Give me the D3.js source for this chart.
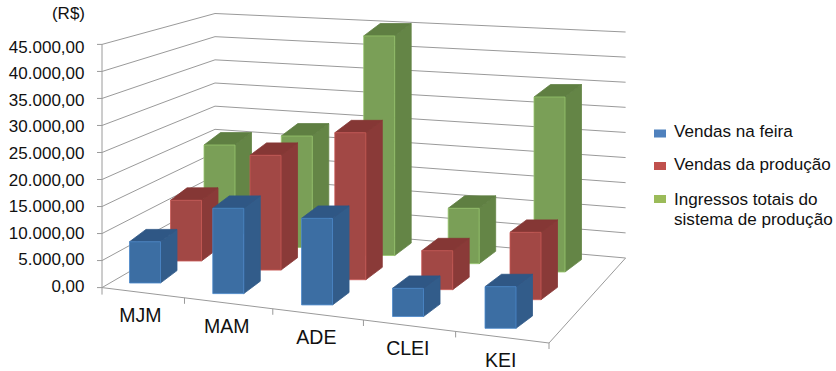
<!DOCTYPE html>
<html><head><meta charset="utf-8">
<script src="https://cdn.jsdelivr.net/npm/d3@7"></script>
<style>html,body{margin:0;background:#fff}svg{display:block}text{font-family:"Liberation Sans",Arial,sans-serif;fill:#111}</style>
</head><body><svg id="c" width="836" height="371"></svg>
<script>
const categories = ["MJM", "MAM", "ADE", "CLEI", "KEI"];
const seriesNames = ["Vendas na feira", "Vendas da produção", "Ingressos totais do sistema de produção"];
const feira = [7600, 15470, 15420, 4930, 7150];
const producao = [11830, 21980, 27650, 7190, 12230];
const ingressos = [19430, 22400, 43290, 10720, 33230];
const ticks = [0, 5000, 10000, 15000, 20000, 25000, 30000, 35000, 40000, 45000];

const palette = [
  {front: "#3c6ea3", side: "#325c8a", top: "#2f5785", key: "#4f81bd"},
  {front: "#a24845", side: "#8a3a38", top: "#853735", key: "#c0504d"},
  {front: "#7a9f57", side: "#648546", top: "#5f7f42", key: "#9bbb59"}
];

const svg = d3.select("#c");
const pathOf = pts => "M" + pts.map(p => p.join(",")).join("L") + "Z";
const lineOf = pts => "M" + pts.map(p => p.join(",")).join("L");
const gridColor = "#9a9a9a";

// Walls: value to screen y at the three visible vertical edges of the box
const frontLeftX = 102, backLeftX = 215, backRightX = 625.6;
const frontWallY = d3.scaleLinear().domain([0, 45000]).range([287.6, 44.4]);
const leftBackY = d3.scaleLinear().domain([0, 45000]).range([222, 13.5]);
const rightBackY = d3.scaleLinear().domain([0, 45000]).range([258, 32]);

svg.append("g").selectAll("path").data(ticks).join("path")
  .attr("d", t => lineOf([[frontLeftX, frontWallY(t)], [backLeftX, leftBackY(t)], [backRightX, rightBackY(t)]]))
  .attr("fill", "none").attr("stroke", gridColor);

// Front floor edge: slightly stretched toward the near corner
const frontRight = [549, 343];
const edgeT = d3.scalePow().exponent(1.05).domain([0, 5]).range([0, 1]);
const edgeX = t => frontLeftX + (frontRight[0] - frontLeftX) * t;
const edgeY = t => frontWallY(0) + (frontRight[1] - frontWallY(0)) * t;

const axes = svg.append("g").attr("stroke", gridColor).attr("fill", "none");
axes.append("path").attr("d", lineOf([[frontLeftX, frontWallY(0)], frontRight, [backRightX, rightBackY(0)]]));
axes.append("line").attr("x1", frontLeftX).attr("x2", frontLeftX)
  .attr("y1", frontWallY(45000)).attr("y2", frontWallY(0) + 7);
axes.selectAll(".vt").data(ticks).join("line").attr("class", "vt")
  .attr("x1", frontLeftX - 5).attr("x2", frontLeftX)
  .attr("y1", frontWallY).attr("y2", frontWallY);
axes.selectAll(".ct").data(d3.range(1, 6)).join("line").attr("class", "ct")
  .attr("x1", i => edgeX(edgeT(i))).attr("x2", i => edgeX(edgeT(i)))
  .attr("y1", i => edgeY(edgeT(i))).attr("y2", i => edgeY(edgeT(i)) + 6);

// Value labels
const labelY = d3.scaleLinear().domain([0, 45000]).range([292, 52.7]);
const labelFormat = v => d3.format(",.2f")(v).replace(/,/g, "#").replace(".", ",").replace(/#/g, ".");
svg.append("g").selectAll("text").data(ticks).join("text")
  .attr("x", 84.5).attr("y", labelY).attr("text-anchor", "end")
  .attr("font-size", 17).text(labelFormat);
svg.append("text").attr("x", 85).attr("y", 19).attr("text-anchor", "end").attr("font-size", 17).text("(R$)");

// Category labels under the front floor edge
svg.append("g").selectAll("text").data(categories).join("text")
  .attr("x", (c, i) => edgeX(edgeT(i + 0.5)) - 1.5)
  .attr("y", (c, i) => edgeY(edgeT(i + 0.5)) + 29.5)
  .attr("text-anchor", "middle").attr("font-size", 19.5).text(c => c);

// Each depth row runs along its own line on the floor, with its own height scale
const rowT = d3.scalePow().exponent(1.047).domain([0, categories.length - 1]).range([0, 1]);
const rowGeometry = [
  {x: [129.5, 485], y: [283, 328.3], h: [244, 262]},
  {x: [170.5, 510], y: [261, 299.7], h: [231, 248]},
  {x: [204, 534], y: [240, 272], h: [220, 237]}
];
const rowScales = rowGeometry.map(r => ({
  x: d3.scaleLinear().range(r.x),
  y: d3.scaleLinear().range(r.y),
  h: d3.scaleLinear().range(r.h)
}));
const valueFraction = d3.scaleLinear().domain([0, 45000]).range([0, 1]);
const barWidth = 31, depthX = 16.5, depthY = 12.4;

// Bars, back row first so nearer rows cover it
const rows = [feira, producao, ingressos];
const barLayer = svg.append("g");
[2, 1, 0].forEach(s => {
  const colors = palette[s], scale = rowScales[s];
  categories.forEach((c, i) => {
    const t = rowT(i);
    const x0 = scale.x(t), x1 = x0 + barWidth;
    const base = scale.y(t), top = base - valueFraction(rows[s][i]) * scale.h(t);
    const g = barLayer.append("g").attr("stroke-width", 0.8).attr("stroke-linejoin", "round");
    g.append("path").attr("d", pathOf([[x1, base], [x1 + depthX, base - depthY], [x1 + depthX, top - depthY], [x1, top]]))
      .attr("fill", colors.side).attr("stroke", colors.side);
    g.append("path").attr("d", pathOf([[x0, top], [x1, top], [x1 + depthX, top - depthY], [x0 + depthX, top - depthY]]))
      .attr("fill", colors.top).attr("stroke", colors.top);
    g.append("rect").attr("x", x0).attr("y", top).attr("width", barWidth).attr("height", base - top)
      .attr("fill", colors.front).attr("stroke", d3.color(colors.front).brighter(0.6));
  });
});

// Legend
const legendLines = [["Vendas na feira"], ["Vendas da produção"], ["Ingressos totais do", "sistema de produção"]];
const legendKeyY = [129.5, 162, 195];
const legendBase = [136.7, 170, 205];
const legend = svg.append("g");
seriesNames.forEach((name, s) => {
  legend.append("rect").attr("x", 654).attr("y", legendKeyY[s]).attr("width", 12).attr("height", 8).attr("fill", palette[s].key);
  legendLines[s].forEach((line, k) => {
    legend.append("text").attr("x", 674).attr("y", legendBase[s] + k * 20).attr("font-size", 17.1).text(line);
  });
});
</script></body></html>
